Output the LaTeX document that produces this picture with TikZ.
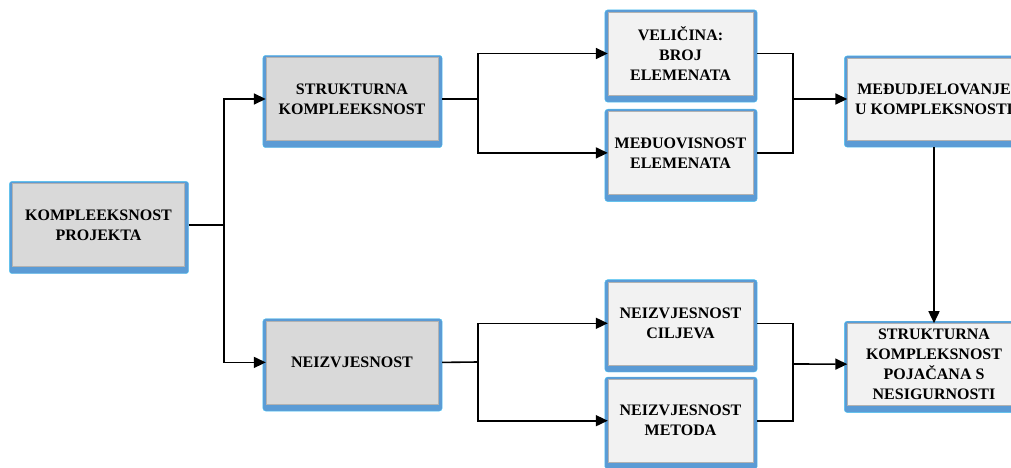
\documentclass[tikz,border=0pt]{standalone}
\usepackage{fontspec}
\setmainfont{Liberation Serif}
\usetikzlibrary{arrows.meta,positioning,backgrounds}

\definecolor{boxgray}{HTML}{D9D9D9}
\definecolor{boxlight}{HTML}{F2F2F2}
\definecolor{bevelblue}{HTML}{5B9BD5}

\begin{document}
\begin{tikzpicture}[x=1pt,y=-1pt]
    \tikzset{
        box/.style = {rectangle, draw=gray!60, thin, align=center, inner sep=2pt,
                      font=\fontsize{16}{20}\selectfont\bfseries},
        graybox/.style = {box, fill=boxgray, minimum width=172pt, minimum height=83pt},
        lightbox/.style = {box, fill=boxlight, minimum width=145pt, minimum height=83pt},
        widebox/.style = {box, fill=boxlight, minimum width=173pt, minimum height=82pt},
        bevel/.style = {fill=bevelblue, draw=cyan!70, thin, rounded corners=3pt},
        line/.style = {draw=black, line width=1.6pt, -{Triangle[length=12pt,width=11pt]}},
        wire/.style = {draw=black, line width=1.6pt}
    }
    \useasboundingbox (0,0) rectangle (1011,468);

    \node[graybox](proj) at (98.5,225){KOMPLEEKSNOST\\PROJEKTA};

    \node[graybox](struk) at (352,99){STRUKTURNA\\KOMPLEEKSNOST};
    \node[graybox](neiz)[below = 180pt of struk]{NEIZVJESNOST};

    \node[lightbox](vel) at (680.5,53.5){VELIČINA:\\BROJ\\ELEMENATA};
    \node[lightbox](medj)[below = 16pt of vel]{MEĐUOVISNOST\\ELEMENATA};
    \node[lightbox](cilj)[below = 87pt of medj]{NEIZVJESNOST\\CILJEVA};
    \node[lightbox](metod)[below = 14pt of cilj]{NEIZVJESNOST\\METODA};

    \node[widebox](medu) at (934,99){MEĐUDJELOVANJE\\U KOMPLEKSNOSTI};
    \node[widebox](pojac)[below = 183pt of medu]{STRUKTURNA\\KOMPLEKSNOST\\POJAČANA S\\NESIGURNOSTI};

    % 3d frames behind the boxes
    \begin{scope}[on background layer]
        \foreach \n in {proj,struk,neiz,vel,medj,cilj,metod,medu,pojac}
            \path[bevel] ([xshift=-3pt,yshift=2pt]\n.north west) rectangle ([xshift=4pt,yshift=-7pt]\n.south east);
    \end{scope}

    \coordinate (split1) at (224,225);
    \coordinate (split2) at (478,99);
    \coordinate (split3) at (478,362);
    \coordinate (join1) at (793,99);
    \coordinate (join2) at (793,364);

    \path [wire] ([xshift=4pt]proj.east) -- (split1);
    \path [line] (split1) |- (struk);
    \path [line] (split1) |- (neiz);

    \path [wire] ([xshift=4pt]struk.east) -- (split2);
    \path [line] (split2) |- (vel);
    \path [line] (split2) |- (medj);

    \path [wire] ([xshift=4pt]neiz.east) -- (split3);
    \path [line] (split3) |- (cilj);
    \path [line] (split3) |- (metod);

    \path [wire] ([xshift=4pt]vel.east) -| (join1) |- ([xshift=4pt]medj.east);
    \path [line] (join1) -- (medu);

    \path [wire] ([xshift=4pt]cilj.east) -| (join2) |- ([xshift=4pt]metod.east);
    \path [line] (join2) -- (pojac);

    \path [line] ([yshift=-7pt]medu.south) -- (pojac);

\end{tikzpicture}
\end{document}
